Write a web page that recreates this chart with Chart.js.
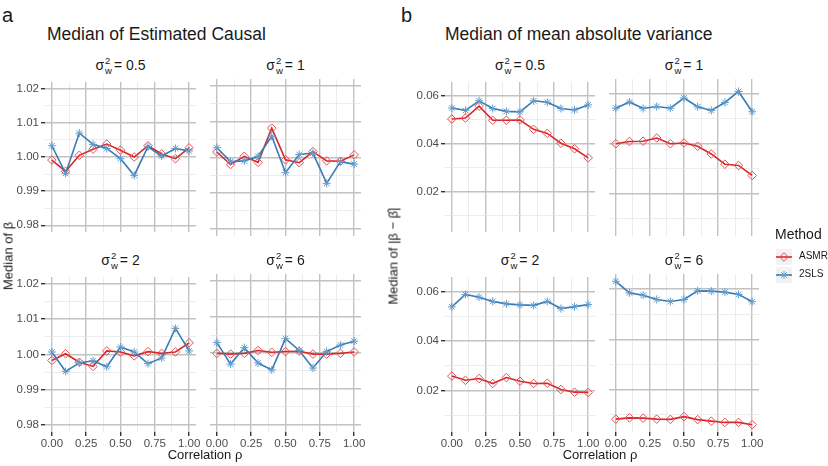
<!DOCTYPE html>
<html>
<head>
<meta charset="utf-8">
<script src="https://cdn.jsdelivr.net/npm/chart.js@4.4.0/dist/chart.umd.min.js"></script>
<style>
body { margin: 0; background: #fff; font-family: "Liberation Sans", Arial, sans-serif; color: #1a1a1a; }
#fig { position: relative; width: 828px; height: 466px; overflow: hidden; }
#fig canvas { position: absolute; }
.t { position: absolute; white-space: nowrap; }
.strip { position: absolute; text-align: center; font-size: 14px; height: 20px; line-height: 20px; }
.sw { display: inline-block; vertical-align: middle; font-size: 9.5px; line-height: 10px; text-align: left; margin: 0 2px 0 1px; }
.sw span { display: block; }
.ytitle { position: absolute; white-space: nowrap; font-size: 13px; transform: translate(-50%, -50%) rotate(-90deg); }
.key { position: absolute; width: 16px; height: 16px; background: #f2f2f2; }
</style>
</head>
<body>
<div id="fig"></div>
<script>
// x values (correlation rho)
const rho = [0, 0.1, 0.2, 0.3, 0.4, 0.5, 0.6, 0.7, 0.8, 0.9, 1.0];
const sigmaW = ['0.5', '1', '2', '6'];
const methods = ['ASMR', '2SLS'];

// a: median of estimated causal effect
const estASMR_05 = [0.9991, 0.9958, 1.0005, 1.0023, 1.0038, 1.0020, 1.0000, 1.0033, 1.0009, 0.9995, 1.0027];
const estSLS_05  = [1.0033, 0.9952, 1.0070, 1.0037, 1.0025, 0.9995, 0.9946, 1.0030, 1.0003, 1.0025, 1.0018];
const estASMR_1  = [1.0015, 0.9980, 1.0003, 0.9986, 1.0082, 0.9993, 0.9985, 1.0016, 0.9990, 0.9989, 1.0007];
const estSLS_1   = [1.0027, 0.9988, 0.9990, 1.0003, 1.0059, 0.9957, 1.0008, 1.0012, 0.9927, 0.9988, 0.9981];
const estASMR_2  = [0.9983, 1.0002, 0.9978, 0.9966, 1.0010, 1.0007, 0.9996, 1.0008, 1.0003, 1.0007, 1.0033];
const estSLS_2   = [1.0007, 0.9952, 0.9976, 0.9982, 0.9965, 1.0021, 1.0007, 0.9974, 0.9990, 1.0074, 1.0010];
const estASMR_6  = [0.9999, 0.9997, 0.9999, 1.0007, 1.0002, 1.0004, 1.0005, 0.9997, 0.9997, 0.9999, 1.0003];
const estSLS_6   = [1.0029, 0.9969, 1.0015, 0.9972, 0.9953, 1.0040, 1.0007, 0.9958, 1.0004, 1.0022, 1.0033];

// b: median of mean absolute variance
const varASMR_05 = [0.0504, 0.0508, 0.0558, 0.0499, 0.0499, 0.0500, 0.0461, 0.0444, 0.0403, 0.0380, 0.0342];
const varSLS_05  = [0.0550, 0.0540, 0.0580, 0.0548, 0.0536, 0.0534, 0.0580, 0.0574, 0.0548, 0.0542, 0.0563];
const varASMR_1  = [0.0400, 0.0409, 0.0410, 0.0423, 0.0400, 0.0403, 0.0390, 0.0359, 0.0318, 0.0313, 0.0273];
const varSLS_1   = [0.0542, 0.0567, 0.0541, 0.0549, 0.0542, 0.0583, 0.0548, 0.0533, 0.0565, 0.0609, 0.0528];
const varASMR_2  = [0.0258, 0.0241, 0.0248, 0.0228, 0.0252, 0.0237, 0.0228, 0.0229, 0.0204, 0.0193, 0.0192];
const varSLS_2   = [0.0538, 0.0588, 0.0577, 0.0560, 0.0550, 0.0546, 0.0544, 0.0560, 0.0531, 0.0539, 0.0547];
const varASMR_6  = [0.0083, 0.0088, 0.0087, 0.0083, 0.0082, 0.0093, 0.0081, 0.0075, 0.0070, 0.0070, 0.0061];
const varSLS_6   = [0.0630, 0.0584, 0.0575, 0.0558, 0.0550, 0.0558, 0.0592, 0.0591, 0.0587, 0.0578, 0.0549];

// tick labels
const rhoTicks = [0, 0.25, 0.5, 0.75, 1];
const estTicks = [0.98, 0.99, 1.00, 1.01, 1.02];
const varTicks = [0.02, 0.04, 0.06];

const RED = 'rgb(214,39,40)', RED_PT = 'rgb(233,80,86)';
const BLUE = 'rgb(55,124,182)', BLUE_PT = 'rgb(96,156,206)';
const FONT = '"Liberation Sans", Arial, sans-serif';

const fig = document.getElementById('fig');

function addText(html, cls, style) {
    const d = document.createElement('div');
    d.className = cls;
    d.innerHTML = html;
    Object.assign(d.style, style);
    fig.appendChild(d);
    return d;
}

function isMajor(v, majors) {
    return majors.some(m => Math.abs(m - v) < 1e-9);
}

// majors plus the half-way minor lines that fall inside the range
function withMinors(majors, min, max) {
    const step = majors[1] - majors[0];
    const out = majors.slice();
    for (let i = 0; i < majors.length - 1; i++) out.push((majors[i] + majors[i + 1]) / 2);
    if (majors[0] - step / 2 >= min) out.push(majors[0] - step / 2);
    if (majors[majors.length - 1] + step / 2 <= max) out.push(majors[majors.length - 1] + step / 2);
    return out.sort((a, b) => a - b);
}

function gridOpts(majors, drawTicks) {
    return {
        color: c => (c.tick && isMajor(c.tick.value, majors)) ? '#c2c2c2' : '#e4e4e4',
        lineWidth: c => (c.tick && isMajor(c.tick.value, majors)) ? 1.4 : 0.7,
        tickColor: c => (c.tick && isMajor(c.tick.value, majors)) ? '#333333' : 'rgba(0,0,0,0)',
        tickLength: 4,
        drawTicks: drawTicks
    };
}

const groups = [
    { min: 0.978, max: 1.022, majors: estTicks, lefts: [45, 210], w: 151,
      series: [[estASMR_05, estSLS_05], [estASMR_1, estSLS_1], [estASMR_2, estSLS_2], [estASMR_6, estSLS_6]] },
    { min: 0.0032, max: 0.0659, majors: varTicks, lefts: [445, 609], w: 150,
      series: [[varASMR_05, varSLS_05], [varASMR_1, varSLS_1], [varASMR_2, varSLS_2], [varASMR_6, varSLS_6]] }
];
const rowTops = [79, 274];
const panelH = 158;

groups.forEach(g => {
    g.series.forEach((pair, k) => {
        const row = Math.floor(k / 2), col = k % 2;
        const left = g.lefts[col], top = rowTops[row];
        const yW = col === 0 ? 42 : 8;
        const xH = row === 1 ? 21 : 0;
        const padT = 6, padR = 10, padB = row === 1 ? 2 : 4;

        // strip label
        addText('σ<span class="sw"><span>2</span><span>w</span></span>= ' + sigmaW[k], 'strip',
            { left: left + 'px', width: g.w + 'px', top: (top - 24) + 'px' });

        const cv = document.createElement('canvas');
        cv.width = yW + g.w + padR;
        cv.height = padT + panelH + xH + padB;
        cv.style.left = (left - yW) + 'px';
        cv.style.top = (top - padT) + 'px';
        fig.appendChild(cv);

        const xAll = withMinors(rhoTicks, -0.05, 1.05);
        const yAll = withMinors(g.majors, g.min, g.max);

        new Chart(cv, {
            type: 'line',
            data: {
                datasets: [{
                    label: methods[0],
                    data: rho.map((x, i) => ({ x: x, y: pair[0][i] })),
                    borderColor: RED,
                    borderWidth: 1.6,
                    pointStyle: 'rectRot',
                    pointRadius: 4.3,
                    pointBorderColor: RED_PT,
                    pointBackgroundColor: 'rgba(0,0,0,0)',
                    pointBorderWidth: 1,
                    order: 1
                }, {
                    label: methods[1],
                    data: rho.map((x, i) => ({ x: x, y: pair[1][i] })),
                    borderColor: BLUE,
                    borderWidth: 1.6,
                    pointStyle: 'star',
                    pointRadius: 4,
                    pointBorderColor: BLUE_PT,
                    pointBackgroundColor: BLUE_PT,
                    pointBorderWidth: 1,
                    order: 0
                }]
            },
            options: {
                responsive: false,
                animation: false,
                layout: { padding: { top: padT, right: padR, bottom: padB, left: 0 } },
                plugins: { legend: { display: false }, tooltip: { enabled: false } },
                elements: { line: { tension: 0 } },
                scales: {
                    x: {
                        type: 'linear',
                        min: -0.05,
                        max: 1.05,
                        border: { display: false },
                        grid: gridOpts(rhoTicks, row === 1),
                        afterBuildTicks: s => { s.ticks = xAll.map(v => ({ value: v })); },
                        afterFit: s => { s.height = xH; },
                        ticks: {
                            display: row === 1,
                            autoSkip: false,
                            maxRotation: 0,
                            padding: 1,
                            color: '#4d4d4d',
                            font: { family: FONT, size: 11.5 },
                            callback: v => isMajor(v, rhoTicks) ? v.toFixed(2) : ''
                        }
                    },
                    y: {
                        type: 'linear',
                        min: g.min,
                        max: g.max,
                        border: { display: false },
                        grid: gridOpts(g.majors, col === 0),
                        afterBuildTicks: s => { s.ticks = yAll.map(v => ({ value: v })); },
                        afterFit: s => { s.width = yW; },
                        ticks: {
                            display: col === 0,
                            autoSkip: false,
                            padding: 2,
                            color: '#4d4d4d',
                            font: { family: FONT, size: 11.5 },
                            callback: v => isMajor(v, g.majors) ? v.toFixed(2) : ''
                        }
                    }
                }
            }
        });
    });
});

// titles and axis titles
addText('a', 't', { left: '2px', top: '4px', fontSize: '20px' });
addText('b', 't', { left: '401px', top: '4px', fontSize: '20px' });
addText('Median of Estimated Causal', 't', { left: '47px', top: '24px', fontSize: '17.5px' });
addText('Median of mean absolute variance', 't', { left: '445px', top: '24px', fontSize: '17.5px' });
addText('Correlation ρ', 't', { left: '205px', top: '447px', fontSize: '13px', transform: 'translateX(-50%)' });
addText('Correlation ρ', 't', { left: '600px', top: '447px', fontSize: '13px', transform: 'translateX(-50%)' });
addText('Median of β', 'ytitle', { left: '8px', top: '256px' });
addText('Median of |β − β̂|', 'ytitle', { left: '393px', top: '256px' });

// legend
addText('Method', 't', { left: '775px', top: '226px', fontSize: '14px' });
const keyDiamond = '<svg width="16" height="16"><line x1="0" y1="8" x2="16" y2="8" stroke="' + RED + '" stroke-width="1.6"/>' +
    '<polygon points="8,3.7 12.3,8 8,12.3 3.7,8" fill="none" stroke="' + RED_PT + '" stroke-width="1"/></svg>';
const keyStar = '<svg width="16" height="16"><line x1="0" y1="8" x2="16" y2="8" stroke="' + BLUE + '" stroke-width="1.6"/>' +
    '<g stroke="' + BLUE_PT + '" stroke-width="1"><line x1="8" y1="4" x2="8" y2="12"/><line x1="4" y1="8" x2="12" y2="8"/>' +
    '<line x1="5.2" y1="5.2" x2="10.8" y2="10.8"/><line x1="5.2" y1="10.8" x2="10.8" y2="5.2"/></g></svg>';
addText(keyDiamond, 'key', { left: '776px', top: '249px' });
addText(keyStar, 'key', { left: '776px', top: '267px' });
addText(methods[0], 't', { left: '799px', top: '250px', fontSize: '10px' });
addText(methods[1], 't', { left: '799px', top: '268px', fontSize: '10px' });
</script>
</body>
</html>
